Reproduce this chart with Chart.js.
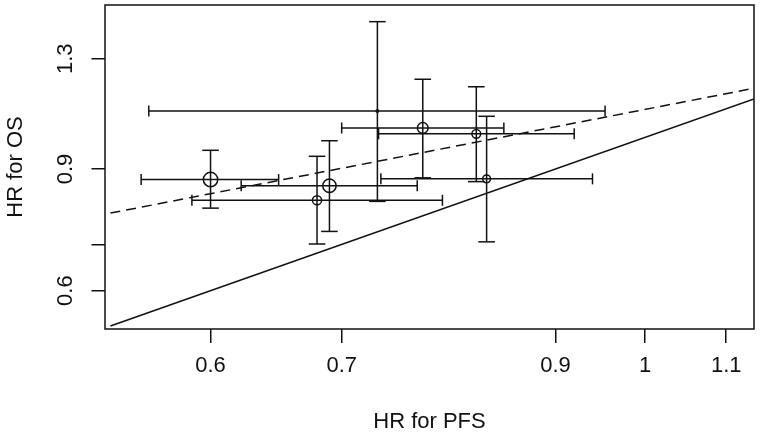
<!DOCTYPE html>
<html><head><meta charset="utf-8">
<script src="https://cdn.jsdelivr.net/npm/chart.js@4"></script>
<style>html,body{margin:0;padding:0;background:#fff}canvas{display:block}</style>
</head><body>
<canvas id="c" width="760" height="436"></canvas>
<script>
// ---- data ----
const xTickValues = [0.6, 0.7, 0.9, 1, 1.1];
const xTickLabels = ['0.6', '0.7', '0.9', '1', '1.1'];
const yTickValues = [0.6, 0.7, 0.9, 1.3];
const yTickLabels = ['0.6', '', '0.9', '1.3'];

const pfsHR = [0.600, 0.690, 0.680, 0.730, 0.770, 0.820, 0.830];
const pfsLo = [0.553, 0.622, 0.587, 0.558, 0.700, 0.731, 0.733];
const pfsHi = [0.650, 0.765, 0.788, 0.954, 0.847, 0.920, 0.940];
const osHR  = [0.869, 0.851, 0.811, 1.092, 1.032, 1.012, 0.871];
const osLo  = [0.790, 0.731, 0.701, 0.808, 0.874, 0.863, 0.706];
const osHi  = [0.958, 0.989, 0.939, 1.471, 1.214, 1.184, 1.073];
const studySize = [7.2, 6.7, 4.6, 1.2, 5.4, 4.4, 3.9];

const xRange = [0.5334, 1.1365];
const yRange = [0.528, 1.555];
const identityX = [0.5334, 1.1365];
const identityY = [0.5334, 1.1365];
const regX = [0.5334, 1.1365];
const regY = [0.777, 1.178];

// ---- chart ----
const INK = '#111';
const LW = 1.5;
const FONT = {family: '"Liberation Sans", Arial, Helvetica, sans-serif', size: 22};

const datasets = [];
datasets.push({
  type: 'bubble',
  data: pfsHR.map((x, i) => ({x: x, y: osHR[i], r: studySize[i]})),
  backgroundColor: 'rgba(0,0,0,0)',
  borderColor: INK,
  borderWidth: LW
});
pfsHR.forEach((x, i) => {
  datasets.push({
    type: 'line',
    data: [{x: x, y: osLo[i]}, {x: x, y: osHi[i]}],
    borderColor: INK, borderWidth: LW, fill: false,
    pointStyle: 'line', pointRadius: 8.3, pointRotation: 0,
    pointBorderColor: INK, pointBorderWidth: LW
  });
  datasets.push({
    type: 'line',
    data: [{x: pfsLo[i], y: osHR[i]}, {x: pfsHi[i], y: osHR[i]}],
    borderColor: INK, borderWidth: LW, fill: false,
    pointStyle: 'line', pointRadius: 5.5, pointRotation: 90,
    pointBorderColor: INK, pointBorderWidth: LW
  });
});
datasets.push({
  type: 'line',
  data: identityX.map((x, i) => ({x: x, y: identityY[i]})),
  borderColor: INK, borderWidth: LW, pointRadius: 0, fill: false
});
datasets.push({
  type: 'line',
  data: regX.map((x, i) => ({x: x, y: regY[i]})),
  borderColor: INK, borderWidth: LW, pointRadius: 0, fill: false,
  borderDash: [10, 6]
});

const boxPlugin = {
  id: 'box',
  afterDatasetsDraw(chart) {
    const {ctx, chartArea: a} = chart;
    ctx.save();
    ctx.strokeStyle = INK;
    ctx.lineWidth = LW;
    ctx.strokeRect(a.left, a.top, a.right - a.left, a.bottom - a.top);
    ctx.restore();
  }
};

function zeroPad(s) { s.paddingTop = 0; s.paddingBottom = 0; s.paddingLeft = 0; s.paddingRight = 0; }

new Chart(document.getElementById('c'), {
  type: 'scatter',
  data: {datasets: datasets},
  options: {
    responsive: false,
    animation: false,
    devicePixelRatio: 1,
    events: [],
    layout: {autoPadding: false, padding: {top: 5, right: 6, left: 0, bottom: 0}},
    plugins: {legend: {display: false}, tooltip: {enabled: false}},
    scales: {
      x: {
        type: 'logarithmic', position: 'bottom',
        min: xRange[0], max: xRange[1],
        afterBuildTicks: s => { s.ticks = xTickValues.map(v => ({value: v})); },
        afterFit: s => { s.height = 107; zeroPad(s); },
        ticks: {
          autoSkip: false, maxRotation: 0, minRotation: 0,
          color: INK, font: FONT, padding: 10,
          callback: (v) => { const k = xTickValues.indexOf(v); return k >= 0 ? xTickLabels[k] : ''; }
        },
        grid: {drawOnChartArea: false, drawTicks: true, tickLength: 14, color: INK, lineWidth: LW},
        border: {display: false},
        title: {display: true, text: 'HR for PFS', color: INK, font: FONT, padding: {top: 0, bottom: 1}}
      },
      y: {
        type: 'logarithmic', position: 'left',
        min: yRange[0], max: yRange[1],
        afterBuildTicks: s => { s.ticks = yTickValues.map(v => ({value: v})); },
        afterFit: s => { s.width = 105; zeroPad(s); },
        ticks: {
          autoSkip: false, minRotation: 90, maxRotation: 90, crossAlign: 'center',
          color: INK, font: FONT, padding: 10,
          callback: (v) => { const k = yTickValues.indexOf(v); return k >= 0 ? yTickLabels[k] : ''; }
        },
        grid: {drawOnChartArea: false, drawTicks: true, tickLength: 13.5, color: INK, lineWidth: LW},
        border: {display: false},
        title: {display: true, text: 'HR for OS', color: INK, font: FONT, padding: {top: 3, bottom: 0}}
      }
    }
  },
  plugins: [boxPlugin]
});
</script>
</body></html>
